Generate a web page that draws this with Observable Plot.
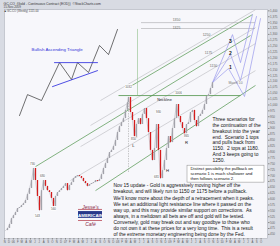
<!DOCTYPE html>
<html><head><meta charset="utf-8">
<script src="https://cdn.jsdelivr.net/npm/d3@7"></script>
<script src="https://cdn.jsdelivr.net/npm/@observablehq/plot@0.6"></script>
<style>
html,body{margin:0;padding:0;background:#d8dbe3;}
#chart{width:280px;height:246px;overflow:hidden;}
svg{display:block;}
</style></head><body><div id="chart"></div>
<script>
// Weekly bars (weeks since 24 Oct 2005) and gold prices
const weeks = [2,4,6,8,10,12,14,16,18,20,22,24,26,28,30,32,34,36,38,40,42,44,46,48,50,52,54,56,58,60,62,64,66,68,70,72,74,76,78,80,82,84,86,88,90,92,94,96,98,100,102,104,106,108,110,112,114,116,118,120,122,124,125,127,129,131,133,135,137,139,141,143,145,147,149,151,153,155,157,159,161,163,165,167,169,171,173,175,177,179,181,183,185,187,189,191,193,195,197,199,201,203,205,207,209];
const gold = [466,475,492,517,530,543,560,564,573,581,594,620,645,679,730,679,611,551,636,679,654,636,628,603,568,611,628,636,645,654,666,636,658,670,688,696,700,696,688,675,666,654,662,666,670,679,675,683,704,730,751,773,798,807,824,849,883,908,925,942,977,1010,1032,968,934,858,917,942,917,960,985,942,883,807,764,815,917,807,687,721,764,815,866,840,900,942,1002,951,925,900,874,917,925,968,977,934,908,951,960,977,1002,1036,1044,1070,1095];

// Price axis ticks
const priceTicks = d3.range(450, 1401, 25);
// Month ticks on the time axis
const monthStarts = d3.utcMonths(new Date(Date.UTC(2005,10,1)), new Date(Date.UTC(2010,10,1)));
const origin = Date.UTC(2005,9,24);

// Trend lines [week1, price1, week2, price2]
const greenLines = [[32,738,247,1295],[125,1074,249,1384],[92,636,252,1083]];
const grayLines = [[97,1019,252,1405],[87,913,252,1329],[77,823,252,1261],[67,679,252,1146]];
const neckline = [115,1040,237,1040];
const levels = [1350,1325];
const levelLabels = [["1350",173,1363],["1325",173,1329],["1250",203,1299],["1175",205,1223],["1150",210,1168]];
// Scenario paths
const scen1 = [[209,1095],[225,1155],[241,1036],[257,1367]];
const scen2 = [[209,1095],[227,1214],[237,1104],[253,1376]];
const scen3 = [[209,1095],[229,1299],[237,1180],[249,1384]];
const scenNums = [["3",227,1270],["2",227,1219],["1",227,1159]];
// Price callouts
const callouts = [["730",29,751],["543",34,530],["680",39,696],["560",50,556],["1032",125,1078],["850",130,857],["930",155,968],["681",153,692],["1006",175,1049],["865",183,870]];
const letters = [["L",130,828],["H",164,721],["R",183,840]];
// Inset: bullish ascending triangle sketch
const triZig = [[16,955],[24,1044],[38,1019],[56,1180],[68,1108],[74,1180],[85,1138],[96,1253],[105,1214],[114,1321]];
const triTop = [[51,1180],[94,1180]];
const triBottom = [[49,1078],[94,1146]];

const scenarioText = "Three scenarios for\nthe continuation of the\nbreakout into the year\nend.  Scenario 1 tops\nand pulls back from\n1150.  2 tops at 1180.\nAnd 3 keeps going to\n1250.";
const boxText = "Distinct possibility the pullback on\nscenario 1 is much shallower and\nthen follows scenario 2.";
const updateText = "Nov 15 update - Gold is aggressively moving higher off the\nbreakout, and will likely run to 1150 or 1175 before a pullback.\nWe'll know more about the depth of a retracement when it peaks.\nWe set an additional light resistance line where it passed on the\nway up, and this may provide similar support on corrections.  As\nalways, in a meltdown all bets are off and gold will be tested.\nConversely, gold may break out and say goodbye to those who\ndo not own it at these prices for a very long time.  This is a result\nof the extreme monetary engineering being done by the Fed.";

const bars = weeks.map((w,i) => ({w, c: gold[i], o: i ? gold[i-1] : gold[i]}));
const seg = a => a.map(d => ({x1:d[0], y1:d[1], x2:d[2], y2:d[3]}));
const pts = a => a.map(d => ({x:d[0], y:d[1]}));
const lab = a => a.map(d => ({t:d[0], x:d[1], y:d[2]}));
const mTicks = monthStarts.map(d => (d - origin) / (7*864e5));
const mFmt = new Map(monthStarts.map(d => [(d - origin) / (7*864e5), d.getUTCMonth() === 0 ? String(d.getUTCFullYear()).slice(2) : "JFMAMJJASOND"[d.getUTCMonth()]]));

const chart = Plot.plot({
  width: 280, height: 246,
  marginLeft: 4, marginRight: 13, marginTop: 9, marginBottom: 8,
  style: {fontFamily: "Liberation Sans, Arial, sans-serif", background: "#d8dbe3"},
  x: {type: "linear", domain: [1, 264]},
  y: {domain: [432.5, 1405.75]},
  marks: [
    Plot.frame({fill: "#f7f7fb", stroke: "#aeb2bb", strokeWidth: 0.6}),
    // header
    Plot.text(["GC-CO  (Gold - Continuous Contract (EOD))  ©StockCharts.com"], {frameAnchor: "top-left", dx: -1, dy: -7, fontSize: 3.4, fill: "#333"}),
    Plot.text(["15-Nov-2009"], {frameAnchor: "top-left", dx: -1, dy: -3.5, fontSize: 3, fill: "#444"}),
    Plot.text(["\u25A0 GC-CO (Weekly) 1115.00"], {frameAnchor: "top-left", dx: 0, dy: 0.5, fontSize: 2.8, fill: "#444"}),
    // channel lines
    Plot.link(seg(grayLines), {x1:"x1", y1:"y1", x2:"x2", y2:"y2", stroke: "#b9b9bd", strokeWidth: 0.6}),
    Plot.link(seg(greenLines), {x1:"x1", y1:"y1", x2:"x2", y2:"y2", stroke: "#4f944a", strokeWidth: 0.7}),
    Plot.ruleY(levels, {x1: 138, x2: 252, stroke: "#a9a9ad", strokeWidth: 0.6}),
    Plot.link([neckline], {x1: d=>d[0], y1: d=>d[1], x2: d=>d[2], y2: d=>d[3], stroke: "#4f944a", strokeWidth: 0.8}),
    Plot.ruleX([134], {y1: 1040, y2: 1321, stroke: "#8fc08a", strokeWidth: 0.6}),
    Plot.ruleX([125], {y1: 713, y2: 1032, stroke: "#999", strokeWidth: 0.5, strokeDasharray: "1.5,1"}),
    // scenario paths
    Plot.line(pts(scen1), {x:"x", y:"y", stroke: "#9a9aec", strokeWidth: 0.7}),
    Plot.line(pts(scen2), {x:"x", y:"y", stroke: "#9a9aec", strokeWidth: 0.7}),
    Plot.line(pts(scen3), {x:"x", y:"y", stroke: "#9a9aec", strokeWidth: 0.7}),
    Plot.text(lab(scenNums), {x:"x", y:"y", text:"t", fontSize: 5, fontWeight: "bold", fill: "#222"}),
    Plot.text(lab(levelLabels), {x:"x", y:"y", text:"t", fontSize: 3.4, fill: "#666"}),
    Plot.text(["March 10"], {x: 232, y: 1095, fontSize: 3.4, fill: "#777"}),
    Plot.text(["Neckline"], {x: 161, y: 1023, fontSize: 3.8, fill: "#222"}),
    // price bars
    Plot.line(bars, {x: "w", y: "c", stroke: "#b8b8c0", strokeWidth: 0.6}),
    Plot.ruleX(bars, {x: "w", y1: "o", y2: "c", stroke: d => d.c < d.o ? "#d41c1c" : "#a2a2aa", strokeWidth: 1.3}),
    // callouts
    Plot.text(lab(callouts), {x:"x", y:"y", text:"t", fontSize: 3, fill: "#555", stroke: "#fff", strokeWidth: 1.6, paintOrder: "stroke"}),
    Plot.text(lab(letters), {x:"x", y:"y", text:"t", fontSize: 4.2, fill: "#222"}),
    // inset triangle sketch
    Plot.line(pts(triZig), {x:"x", y:"y", stroke: "#333", strokeWidth: 0.7}),
    Plot.line(pts(triTop), {x:"x", y:"y", stroke: "#3b3be0", strokeWidth: 0.9}),
    Plot.line(pts(triBottom), {x:"x", y:"y", stroke: "#3b3be0", strokeWidth: 0.9}),
    Plot.text(["Bullish Ascending Triangle"], {x: 28, y: 1236, textAnchor: "start", fontSize: 4.4, fill: "#3030d8", textDecoration: "underline"}),
    // text blocks
    Plot.text([scenarioText], {x: 209, y: 950, textAnchor: "start", lineAnchor: "top", fontSize: 4.9, lineHeight: 1.2, fill: "#111"}),
    Plot.rect([0], {x1: 184, x2: 261, y1: 670, y2: 742, fill: "#fff", stroke: "#888", strokeWidth: 0.5}),
    Plot.text([boxText], {x: 187, y: 740, textAnchor: "start", lineAnchor: "top", fontSize: 4.2, lineHeight: 1.18, fill: "#111"}),
    Plot.text([updateText], {x: 110, y: 668, textAnchor: "start", lineAnchor: "top", fontSize: 4.9, lineHeight: 1.24, fill: "#111"}),
    // logo
    Plot.text(["Jesse's"], {x: 87, y: 566, fontSize: 5, fontStyle: "italic", fill: "#8a2a48"}),
    Plot.ruleY([556, 509], {x1: 75, x2: 99, stroke: "#b03040", strokeWidth: 0.7}),
    Plot.rect([0], {x1: 75, x2: 99, y1: 518, y2: 547, fill: "#28398a"}),
    Plot.text(["AMERICAIN"], {x: 87, y: 532, fontSize: 4.4, fontWeight: "bold", fill: "#fff"}),
    Plot.text(["Café"], {x: 87, y: 494, fontSize: 5, fontStyle: "italic", fill: "#8a2a48"}),
    // axes
    Plot.axisY({anchor: "right", ticks: priceTicks, tickSize: 1.5, tickPadding: 1, fontSize: 3, fill: "#666", stroke: "#888", label: null}),
    Plot.axisX({anchor: "bottom", ticks: mTicks, tickSize: 1.5, tickPadding: 0.5, fontSize: 2.8, fill: "#555", stroke: "#888", tickFormat: d => mFmt.get(d) ?? "", label: null})
  ]
});
document.getElementById("chart").append(chart);
</script></body></html>
